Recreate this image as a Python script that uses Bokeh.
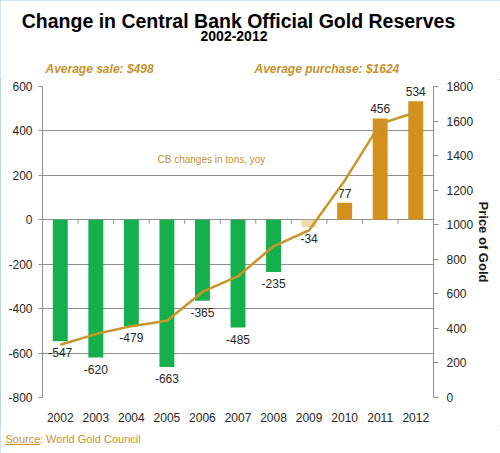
import math
from bokeh.plotting import figure
from bokeh.layouts import column
from bokeh.models import (FactorRange, Range1d, LinearAxis, FixedTicker, Label,
                          ColumnDataSource)
from bokeh.core.properties import value
from bokeh.embed import file_html
from bokeh.resources import INLINE

# ---- data ----
years = ["2002", "2003", "2004", "2005", "2006", "2007", "2008", "2009", "2010", "2011", "2012"]
cb_changes = [-547, -620, -479, -663, -365, -485, -235, -34, 77, 456, 534]
gold_price = [305, 367, 413, 444, 611, 702, 875, 968, 1255, 1584, 1651]
left_ticks = [-800, -600, -400, -200, 0, 200, 400, 600]
right_ticks = [0, 200, 400, 600, 800, 1000, 1200, 1400, 1600, 1800]

title_text = "Change in Central Bank Official Gold Reserves"
subtitle_text = "2002-2012"
avg_sale_text = "Average sale: $498"
avg_purchase_text = "Average purchase: $1624"
series_note = "CB changes in tons, yoy"
source_word = "Source"
source_rest = ": World Gold Council"
right_axis_title = "Price of Gold"

# ---- styles ----
FONT = "Liberation Sans"
GREEN = "#15AF4B"
GOLD_BAR = "#D4901D"
PALE = "#EEDCA8"
LINE = "#C8962B"
TEXT_GOLD = "#C4922E"
GRID = "#8E8E8E"
TICK_TXT = "#262626"
bar_colors = [GREEN] * 7 + [PALE] + [GOLD_BAR] * 3

W = 500
HEADER_H = 79
FOOTER_H = 28
MAIN_H = 453 - HEADER_H - FOOTER_H


def text_panel(height):
    # pixel-sized ranges: data units equal pixels, origin at bottom-left
    f = figure(width=W, height=height, output_backend="svg", toolbar_location=None,
               title=None, x_range=Range1d(0, W), y_range=Range1d(0, height),
               x_axis_location=None, y_axis_location=None,
               min_border=0, min_border_left=0, min_border_right=0,
               min_border_top=0, min_border_bottom=0)
    f.grid.visible = False
    f.outline_line_color = None
    f.background_fill_color = "white"
    f.border_fill_color = "white"
    f.frame_align = False
    return f


def lab(fig, text, x, y, size, color="black", style="normal", align="left"):
    fig.add_layout(Label(x=x, y=y, x_units="screen", y_units="screen", text=text,
                         text_font=FONT, text_font_size=size, text_color=color,
                         text_font_style=style, text_align=align,
                         text_baseline="alphabetic"))


# ---- header with titles ----
header = text_panel(HEADER_H)
lab(header, title_text, 238, HEADER_H - 26 + 6, "19.5px", "black", "bold", "center")
lab(header, subtitle_text, 233.5, HEADER_H - 44.3 + 8.5, "14px", "black", "bold", "center")
lab(header, avg_sale_text, 45, HEADER_H - 73.3 + 5, "12px", TEXT_GOLD, "bold italic")
lab(header, avg_purchase_text, 254, HEADER_H - 73.3 + 5, "12px", TEXT_GOLD, "bold italic")

# ---- main chart ----
src = ColumnDataSource(dict(
    year=years,
    change=cb_changes,
    price=gold_price,
    color=bar_colors,
    label=[str(v) for v in cb_changes],
    baseline=["top" if v < 0 else "bottom" for v in cb_changes],
    yoff=[7 if v < 0 else -5 for v in cb_changes],
))

p = figure(x_range=FactorRange(*years), y_range=Range1d(left_ticks[0], left_ticks[-1]),
           width=W, height=MAIN_H, output_backend="svg", toolbar_location=None,
           title=None,
           min_border_left=42, min_border_right=67, min_border_top=7, min_border_bottom=28)
p.frame_align = False
p.extra_y_ranges = {"price": Range1d(right_ticks[0], right_ticks[-1])}
p.outline_line_color = None
p.background_fill_color = "white"
p.border_fill_color = "white"

p.xgrid.grid_line_color = None
p.ygrid.ticker = FixedTicker(ticks=left_ticks)
p.ygrid.grid_line_color = GRID
p.ygrid.grid_line_width = 1

p.yaxis.ticker = FixedTicker(ticks=left_ticks)
p.yaxis.major_label_overrides = {t: str(t) for t in left_ticks}
p.yaxis.axis_line_color = GRID
p.yaxis.major_tick_line_color = GRID
p.yaxis.major_tick_in = 0
p.yaxis.major_tick_out = 4
p.yaxis.minor_tick_line_color = None
p.yaxis.major_label_standoff = 6
p.yaxis.major_label_text_font = FONT
p.yaxis.major_label_text_font_size = "12px"
p.yaxis.major_label_text_color = TICK_TXT

p.xaxis.axis_line_color = None
p.xaxis.major_tick_line_color = None
p.xaxis.minor_tick_line_color = None
p.xaxis.major_label_standoff = 9
p.xaxis.major_label_text_font = FONT
p.xaxis.major_label_text_font_size = "12px"
p.xaxis.major_label_text_color = TICK_TXT

ra = LinearAxis(y_range_name="price", ticker=FixedTicker(ticks=right_ticks),
                axis_label=right_axis_title)
ra.major_label_overrides = {t: str(t) for t in right_ticks}
ra.axis_line_color = GRID
ra.major_tick_line_color = GRID
ra.major_tick_in = 0
ra.major_tick_out = 5
ra.minor_tick_line_color = None
ra.major_label_standoff = 8
ra.major_label_text_font = FONT
ra.major_label_text_font_size = "12px"
ra.major_label_text_color = TICK_TXT
ra.axis_label_text_font = FONT
ra.axis_label_text_font_size = "13px"
ra.axis_label_text_font_style = "bold"
ra.axis_label_text_color = "#1a1a1a"
ra.axis_label_standoff = 0
p.add_layout(ra, "right")

p.vbar(x="year", top="change", bottom=0, width=0.42, fill_color="color",
       line_color=None, source=src)

p.ray(x=list(range(len(years) + 1)), y=[0] * (len(years) + 1), length=4,
      length_units="screen", angle=-math.pi / 2, line_color=GRID, line_width=1)

p.text(x="year", y="change", text="label", text_align="center",
       text_baseline="baseline", y_offset="yoff", text_font=value(FONT),
       text_font_size="12px", text_color=TICK_TXT, source=src)

p.line(x="year", y="price", y_range_name="price", line_color=LINE, line_width=2.5,
       source=src)

lab(p, series_note, 115, 238.5, "10px", TEXT_GOLD)

# ---- footer with source ----
footer = text_panel(FOOTER_H)
src_base = 10.5
lab(footer, source_word, 5, src_base + 4.5, "11px", TEXT_GOLD)
lab(footer, source_rest, 39.5, src_base + 4.5, "11px", TEXT_GOLD)
# underline of "Source"
footer.segment(x0=[5], y0=[src_base - 1.5], x1=[39.5], y1=[src_base - 1.5],
               line_color=TEXT_GOLD, line_width=1)

layout = column(header, p, footer, spacing=0)
layout.styles = {"outline": "1px solid #A9C4DE", "outline-offset": "-1px"}

open("out.html", "w").write(file_html(layout, INLINE))
